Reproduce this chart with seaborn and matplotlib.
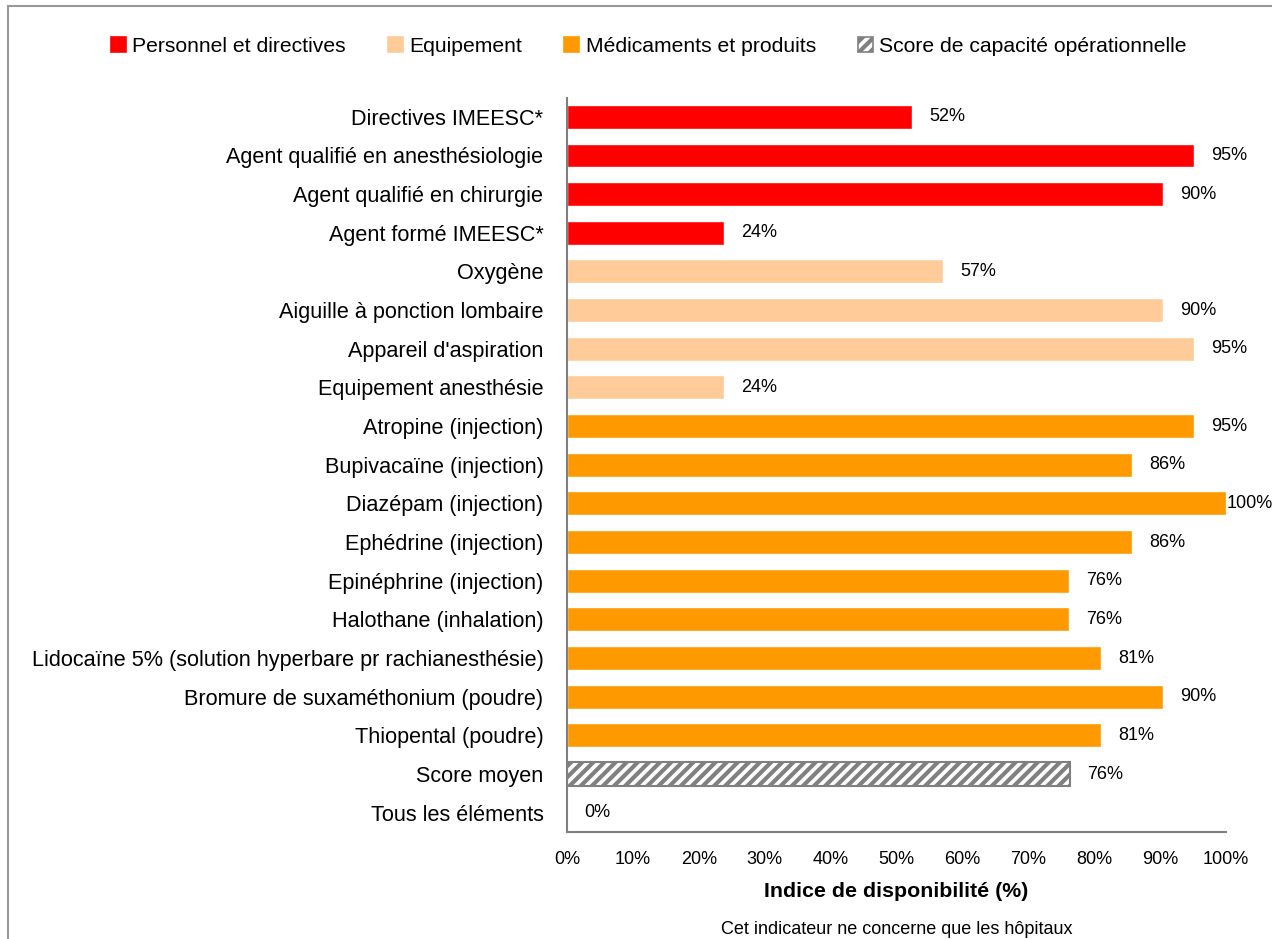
import matplotlib
matplotlib.use("Agg")
import matplotlib.pyplot as plt
from matplotlib.patches import Patch, Rectangle
import seaborn as sns
import pandas as pd

items = [
    "Directives IMEESC*",
    "Agent qualifié en anesthésiologie",
    "Agent qualifié en chirurgie",
    "Agent formé IMEESC*",
    "Oxygène",
    "Aiguille à ponction lombaire",
    "Appareil d'aspiration",
    "Equipement anesthésie",
    "Atropine (injection)",
    "Bupivacaïne (injection)",
    "Diazépam (injection)",
    "Ephédrine (injection)",
    "Epinéphrine (injection)",
    "Halothane (inhalation)",
    "Lidocaïne 5% (solution hyperbare pr rachianesthésie)",
    "Bromure de suxaméthonium (poudre)",
    "Thiopental (poudre)",
    "Score moyen",
    "Tous les éléments",
]
values = [52.4, 95.2, 90.5, 23.8, 57.1, 90.5, 95.2, 23.8, 95.2, 85.7,
          100.0, 85.7, 76.2, 76.2, 81.0, 90.5, 81.0, 76.4, 0.0]
groups = (["Personnel et directives"] * 4 + ["Equipement"] * 4 +
          ["Médicaments et produits"] * 9 +
          ["Score de capacité opérationnelle"] * 2)

group_names = ["Personnel et directives", "Equipement",
               "Médicaments et produits", "Score de capacité opérationnelle"]
colors = ["#FF0000", "#FFCC99", "#FF9900", "#FFFFFF"]
palette = dict(zip(group_names, colors))

df = pd.DataFrame({"item": items, "value": values, "group": groups})

sns.set_style("white")
plt.rcParams["font.family"] = ["Liberation Sans", "DejaVu Sans"]
plt.rcParams["text.color"] = "black"
plt.rcParams["xtick.color"] = "black"
plt.rcParams["ytick.color"] = "black"
plt.rcParams["axes.labelcolor"] = "black"
plt.rcParams["hatch.color"] = "#808080"
plt.rcParams["hatch.linewidth"] = 3.0

fig = plt.figure(figsize=(12.72, 9.39), dpi=100)
ax = fig.add_axes([567 / 1272, 1 - 832 / 939, (1226 - 567) / 1272, (832 - 97.5) / 939])

sns.barplot(data=df, y="item", x="value", hue="group", palette=palette,
            dodge=False, width=0.62, legend=False, ax=ax, saturation=1,
            order=items, hue_order=group_names)

# hatched average-score bar
for patch in ax.patches:
    w = patch.get_width()
    yc = patch.get_y() + patch.get_height() / 2
    if abs(yc - items.index("Score moyen")) < 0.2 and w > 0:
        patch.set_facecolor("white")
        patch.set_edgecolor("#808080")
        patch.set_hatch("///")
        patch.set_linewidth(1.5)

# value labels (a full-length bar gets its label right at the bar end)
for i, v in enumerate(values):
    x = v + 2.6 if v < 99 else v + 0.05
    ax.text(x, i, f"{v:.0f}%", va="center", ha="left", fontsize=13, color="black")

ax.set_xlim(0, 100)
ax.set_ylim(len(items) - 0.5, -0.5)
ax.set_xticks(range(0, 101, 10))
ax.set_xticklabels([f"{t}%" for t in range(0, 101, 10)], fontsize=13)
ax.tick_params(axis="y", labelsize=15.6, length=0, pad=17)
ax.tick_params(axis="x", length=6, color="#808080", width=1.2, pad=8, direction="out")
ax.set_ylabel("")
ax.set_xlabel("Indice de disponibilité (%)", fontsize=15.4, fontweight="bold", labelpad=10)
for s in ["top", "right"]:
    ax.spines[s].set_visible(False)
for s in ["left", "bottom"]:
    ax.spines[s].set_color("#808080")
    ax.spines[s].set_linewidth(1.5)

fig.text((567 + 1226) / 2 / 1272, 1 - 930 / 939, "Cet indicateur ne concerne que les hôpitaux",
         ha="center", va="center", fontsize=13)

handles = [Patch(facecolor=c, edgecolor=("#808080" if g.startswith("Score") else c),
                 hatch=("///" if g.startswith("Score") else None), linewidth=1.2)
           for g, c in zip(group_names, colors)]
fig.legend(handles, group_names, loc="center", bbox_to_anchor=(649 / 1272, 1 - 46 / 939),
           ncol=4, frameon=False, fontsize=15.2, handlelength=0.7, handleheight=0.7,
           handletextpad=0.3, columnspacing=2.0)

# outer chart frame
fig.patches.append(Rectangle((8 / 1272, -0.05), 1.2, 1 - 6 / 939 + 0.05, transform=fig.transFigure,
                             fill=False, edgecolor="#999999", linewidth=1.5))

fig.savefig("out.png", dpi=100)
